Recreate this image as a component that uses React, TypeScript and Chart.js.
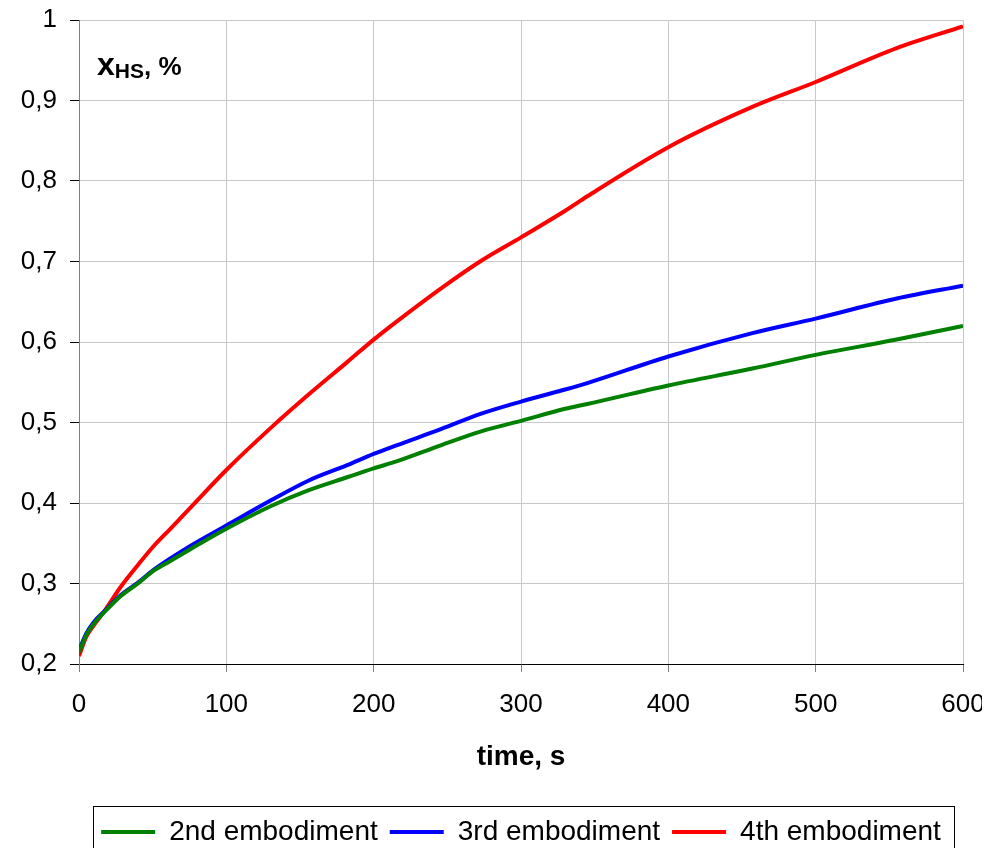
import React, { useEffect, useRef } from 'react';
import { Chart, registerables } from 'chart.js';

Chart.register(...registerables);

const times = [0, 5, 10, 17, 28, 40, 50, 62, 75, 100, 130, 156, 182, 200, 216, 246, 273, 300, 330, 345, 400, 457, 500, 555, 600];
const emb2 = [0.215, 0.236, 0.25, 0.264, 0.284, 0.3, 0.315, 0.328, 0.342, 0.368, 0.396, 0.416, 0.432, 0.443, 0.452, 0.472, 0.489, 0.502, 0.517, 0.523, 0.546, 0.567, 0.584, 0.603, 0.62];
const emb3 = [0.217, 0.238, 0.252, 0.265, 0.285, 0.301, 0.316, 0.331, 0.346, 0.372, 0.403, 0.428, 0.447, 0.461, 0.472, 0.492, 0.511, 0.526, 0.541, 0.549, 0.582, 0.611, 0.629, 0.654, 0.67];
const emb4 = [0.21, 0.234, 0.248, 0.265, 0.295, 0.323, 0.345, 0.368, 0.393, 0.441, 0.493, 0.535, 0.575, 0.603, 0.626, 0.667, 0.701, 0.73, 0.763, 0.781, 0.842, 0.892, 0.923, 0.965, 0.992];

const seriesLabels = ['2nd embodiment', '3rd embodiment', '4th embodiment'];
const seriesColors = ['#008000', '#0000ff', '#ff0000'];
const seriesValues = [emb2, emb3, emb4];

const xTickLabels = ['0', '100', '200', '300', '400', '500', '600'];
const yTickLabels = ['0,2', '0,3', '0,4', '0,5', '0,6', '0,7', '0,8', '0,9', '1'];
const xTitle = 'time, s';
const yTitleMain = 'x';
const yTitleSub = 'HS';
const yTitleRest = ', %';

const FONT = '"Liberation Sans", Arial, sans-serif';

const yTitlePlugin = {
  id: 'yTitlePlugin',
  afterDraw(chart: any) {
    const { ctx, chartArea } = chart;
    ctx.save();
    ctx.fillStyle = '#000';
    ctx.textBaseline = 'alphabetic';
    ctx.textAlign = 'left';
    let x = chartArea.left + 18;
    const base = chartArea.top + 55;
    ctx.font = `bold 32px ${FONT}`;
    ctx.fillText(yTitleMain, x, base);
    x += ctx.measureText(yTitleMain).width;
    ctx.font = `bold 21px ${FONT}`;
    ctx.fillText(yTitleSub, x, base + 3);
    x += ctx.measureText(yTitleSub).width;
    ctx.font = `bold 26px ${FONT}`;
    ctx.fillText(yTitleRest, x, base);
    ctx.restore();
  },
};

const legendBorderPlugin = {
  id: 'legendBorderPlugin',
  afterDraw(chart: any) {
    const legend = chart.legend;
    if (!legend || !legend.legendHitBoxes || !legend.legendHitBoxes.length) return;
    const hb = legend.legendHitBoxes;
    const first = hb[0];
    const last = hb[hb.length - 1];
    const { ctx } = chart;
    ctx.save();
    ctx.strokeStyle = '#000';
    ctx.lineWidth = 1;
    const left = Math.round(first.left - 8) + 0.5;
    const right = Math.round(last.left + last.width + 13) + 0.5;
    const top = Math.round(legend.top) + 0.5;
    ctx.strokeRect(left, top, right - left, chart.height + 10 - top);
    ctx.restore();
  },
};

export default function App() {
  const ref = useRef<HTMLCanvasElement | null>(null);

  useEffect(() => {
    if (!ref.current) return;
    const chart = new Chart(ref.current, {
      type: 'line',
      data: {
        datasets: seriesLabels.map((label, i) => ({
          label,
          data: times.map((t, j) => ({ x: t, y: seriesValues[i][j] })),
          borderColor: seriesColors[i],
          backgroundColor: seriesColors[i],
          borderWidth: 4,
          pointRadius: 0,
          cubicInterpolationMode: 'monotone' as const,
          fill: false,
        })),
      },
      options: {
        responsive: false,
        animation: false,
        devicePixelRatio: 1,
        layout: { padding: { top: 12, right: 27, left: 0, bottom: 0 } },
        plugins: {
          tooltip: { enabled: false },
          legend: {
            display: true,
            position: 'bottom',
            fullSize: false,
            labels: {
              usePointStyle: true,
              pointStyleWidth: 54,
              padding: 12,
              color: '#000',
              font: { family: FONT, size: 28 },
              generateLabels: () =>
                seriesLabels.map((text, i) => ({
                  text,
                  fillStyle: seriesColors[i],
                  strokeStyle: seriesColors[i],
                  lineWidth: 4,
                  pointStyle: 'line',
                  datasetIndex: i,
                  hidden: false,
                  fontColor: '#000',
                })),
            },
          },
        },
        scales: {
          x: {
            type: 'linear',
            min: 0,
            max: 600,
            afterFit(scale: any) {
              scale.height = 142;
              scale.paddingLeft = 0;
              scale.paddingRight = 0;
            },
            ticks: {
              stepSize: 100,
              padding: 17,
              color: '#000',
              font: { family: FONT, size: 26 },
              maxRotation: 0,
              callback: (_v: any, i: number) => xTickLabels[i],
            },
            grid: { color: '#c8c8c8', tickColor: '#808080', tickLength: 8, lineWidth: 1 },
            border: { color: '#000', width: 1 },
            title: {
              display: true,
              text: xTitle,
              color: '#000',
              font: { family: FONT, size: 28, weight: 'bold' },
              padding: { top: 0, bottom: 32 },
            },
          },
          y: {
            type: 'linear',
            min: 0.2,
            max: 1,
            afterFit(scale: any) {
              scale.width = 71;
              scale.paddingTop = 0;
              scale.paddingBottom = 0;
            },
            ticks: {
              stepSize: 0.1,
              padding: 13,
              color: '#000',
              font: { family: FONT, size: 26 },
              callback: (_v: any, i: number) => yTickLabels[i],
            },
            grid: { color: '#c8c8c8', tickColor: '#000', tickLength: 9, lineWidth: 1 },
            border: { color: '#808080', width: 1 },
          },
        },
      },
      plugins: [yTitlePlugin, legendBorderPlugin],
    } as any);
    return () => chart.destroy();
  }, []);

  return (
    <canvas
      ref={ref}
      width={982}
      height={848}
      style={{ display: 'block', marginBottom: -8, marginRight: -8 }}
    />
  );
}
